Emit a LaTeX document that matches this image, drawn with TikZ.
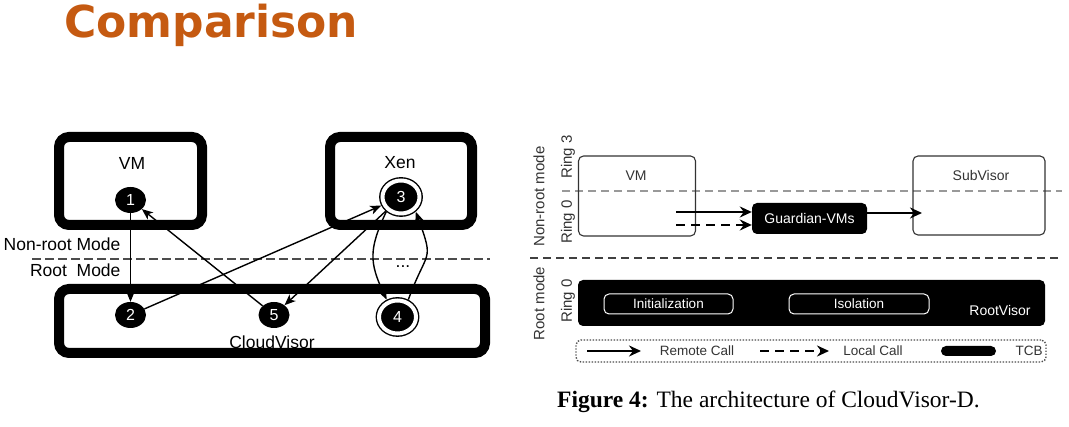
\documentclass[tikz,border=0pt]{standalone}
\usepackage{fontspec}
\setmainfont{Liberation Sans}
\newfontfamily\headfont{DejaVu Sans}
\newfontfamily\capfont{Liberation Serif}
\usetikzlibrary{shapes.geometric,arrows.meta}
\definecolor{headorange}{HTML}{C55A11}
\definecolor{textgray}{HTML}{333333}
\newcommand\fntL{\fontsize{17.5}{20}\selectfont}
\newcommand\fntNum{\fontsize{16}{18}\selectfont}
\newcommand\fntR{\fontsize{14}{16}\selectfont}
\newcommand\fntS{\fontsize{15}{17}\selectfont}
\newcommand\fntLeg{\fontsize{13.5}{16}\selectfont}
\newcommand\fntCap{\capfont\fontsize{23.5}{26}\selectfont}
\newcommand\fntHead{\headfont\bfseries\fontsize{44}{48}\selectfont}
\begin{document}
\begin{tikzpicture}[x=1pt,y=1pt,
    thickbox/.style={draw,line width=10pt,rounded corners=10pt,inner sep=0pt},
    numnode/.style={ellipse,fill=black,text=white,inner sep=0pt,minimum width=31pt,minimum height=26pt,font=\fntNum},
    ringnode/.style={numnode,draw=black,double=white,double distance=4pt,line width=1.4pt,outer sep=3.5pt,minimum width=37pt,minimum height=33pt},
    call/.style={-{Stealth[length=11pt,width=9pt,inset=3pt]},line width=1.4pt},
    thinbox/.style={draw=textgray,line width=1.1pt,rounded corners=5pt,inner sep=0pt},
    tcbbox/.style={fill=black,rounded corners=5pt,inner sep=0pt},
    modulebox/.style={draw=white,line width=1pt,rounded corners=5pt,inner sep=0pt,minimum height=20pt,text=white,font=\fntLeg},
    remote/.style={-{Stealth[length=12pt,width=11pt,inset=4pt]},line width=2.4pt},
    local/.style={remote,dash pattern=on 9pt off 6pt},
    sidelabel/.style={rotate=90,text=textgray,font=\fntS},
    legtext/.style={text=textgray,font=\fntLeg}]
    \useasboundingbox (0,0) rectangle (1069,427);
    \node[anchor=base west,inner sep=0pt,text=headorange,font=\fntHead] (title) at (64,389) {Comparison};

    \node[thickbox,minimum width=143pt,minimum height=88pt] (vmbox) at (130.5,246) {};
    \node[thickbox,minimum width=142pt,minimum height=88pt] (xenbox) at (401,246) {};
    \node[thickbox,minimum width=426pt,minimum height=64pt] (cvbox) at (272,106) {};
    \node[font=\fntL] (vmtext) at (132,264) {VM};
    \node[font=\fntL] (xentext) at (400,264) {Xen};
    \node[font=\fntL] (cvtext) at (272,85) {CloudVisor};
    \draw[dash pattern=on 9pt off 4pt,line width=1.2pt,draw=black!70] (32,168) -- (490,168);
    \node[font=\fntL,anchor=base east] (nonroot) at (124,176) {Non-root Mode};
    \node[font=\fntL,anchor=base east] (root) at (124,150) {Root~~Mode};
    \node[font=\fntL] (dots) at (403,160) {...};
    \node[numnode] (n1) at (130.5,227) {1};
    \node[numnode] (n2) at (130.5,112) {2};
    \node[numnode] (n5) at (274,112) {5};
    \node[ringnode] (n3) at (401,230) {3};
    \node[ringnode] (n4) at (397.5,110) {4};
    \draw[call] (n1) -- (n2);
    \draw[call] (n5) -- (n1);
    \draw[call] (n2) -- (n3);
    \draw[call] (n3) -- (n5);
    \draw[call] (n3.225) to[out=245,in=115,looseness=1.2] (n4.122);
    \draw[call] (n4.58) to[out=70,in=290,looseness=1.6] (n3.315);

    \draw[line width=1.3pt,draw=black!40,dash pattern=on 8pt off 5pt] (562,236) -- (1062,236);
    \draw[line width=2.4pt,draw=black!75,dash pattern=on 8pt off 5pt] (530,169) -- (1058,169);
    \node[sidelabel] (nonrootlbl) at (539,230.5) {Non-root mode};
    \node[sidelabel] (ring3) at (568,270) {Ring 3};
    \node[sidelabel] (ring0a) at (568,205) {Ring 0};
    \node[sidelabel] (rootlbl) at (539,123.5) {Root mode};
    \node[sidelabel] (ring0b) at (568,126) {Ring 0};
    \node[thinbox,minimum width=117pt,minimum height=80pt] (vmr) at (637,231) {};
    \node[thinbox,minimum width=132pt,minimum height=79pt] (subv) at (979,231.5) {};
    \node[text=textgray,font=\fntR] (vmrtext) at (636,251) {VM};
    \node[text=textgray,font=\fntR] (subvtext) at (981,251) {SubVisor};
    \node[tcbbox,minimum width=115pt,minimum height=31pt,text=white,font=\fntR] (guard) at (809.5,208.5) {Guardian-VMs};
    \coordinate (vmout) at (676,215);
    \coordinate (vmlocal) at (676,202);
    \coordinate (svin) at (922,214);
    \draw[remote] (vmout) -- (vmout -| guard.west);
    \draw[local] (vmlocal) -- (vmlocal -| guard.west);
    \draw[remote] (svin -| guard.east) -- (svin);
    \node[tcbbox,minimum width=467pt,minimum height=46pt] (rootv) at (811.5,124) {};
    \node[text=white,font=\fntR] (rootvtext) at (1000,116) {RootVisor};
    \node[modulebox,minimum width=129pt] (init) at (668.5,123) {Initialization};
    \node[modulebox,minimum width=140pt] (isol) at (859,123) {Isolation};

    \node[draw=black!70,line width=1.4pt,dash pattern=on 1.4pt off 1.6pt,rounded corners=5pt,minimum width=470pt,minimum height=22pt,inner sep=0pt] (legend) at (811,76) {};
    \coordinate (rc1) at (587,76);
    \coordinate (rc2) at (641,76);
    \draw[remote] (rc1) -- (rc2);
    \node[legtext] (rctext) at (697,76) {Remote Call};
    \coordinate (lc1) at (760,76);
    \coordinate (lc2) at (829,76);
    \draw[local] (lc1) -- (lc2);
    \node[legtext] (lctext) at (873,76) {Local Call};
    \node[tcbbox,minimum width=55pt,minimum height=10pt] (tcbbar) at (968.5,76) {};
    \node[legtext] (tcbtext) at (1029,76) {TCB};

    \node[anchor=base west,font=\fntCap,inner sep=0pt] (caption) at (557,19) {\textbf{Figure 4:} The architecture of CloudVisor-D.};
\end{tikzpicture}
\end{document}
